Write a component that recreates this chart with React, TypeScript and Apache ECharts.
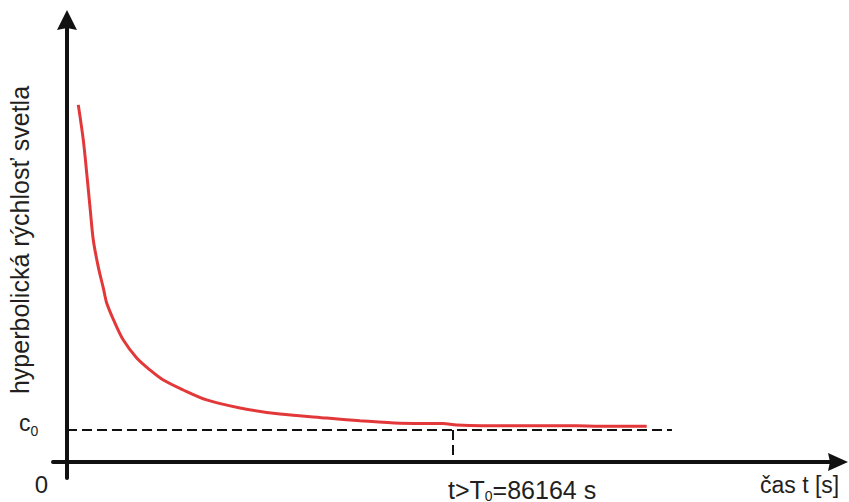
import React, { useEffect, useRef } from "react";
import * as echarts from "echarts";

// time in thousands of seconds (ks), speed in units of c0
const curveTime = [2.52, 3.64, 4.4, 5.13, 5.87, 6.99, 8.1, 8.86, 10.71, 12.57, 15.56, 18.53, 21.5, 25.96, 31.18, 38.62, 47.54, 57.97, 65.4, 74.33, 83.93, 86.99, 97.32, 113.77, 118.23, 129.4];
const curveSpeed = [11.16, 10.06, 9.03, 7.97, 6.94, 6.09, 5.44, 4.97, 4.34, 3.81, 3.25, 2.875, 2.56, 2.25, 1.94, 1.69, 1.5, 1.375, 1.29, 1.21, 1.2, 1.16, 1.13, 1.13, 1.12, 1.12];
const c0Value = [1];
const c0LineEnd = [135.04];
const siderealDay = [86.164];
const xRange = [-3.125, 172.1];
const yRange = [-0.5, 13.8125];

const labels = {
  yName: "hyperbolická rýchlosť svetla",
  xName: "čas t [s]",
  origin: "0",
  c0: "{a|c}{b|0}",
  t0: "{a|t>T}{b|0}{a|=86164 s}",
};

const FONT = '"Liberation Sans", Arial, Helvetica, sans-serif';
const TEXT = "#231f20";
const AXIS = "#111111";

export default function App() {
  const ref = useRef<HTMLDivElement>(null);
  useEffect(() => {
    if (!ref.current) return;
    const chart = echarts.init(ref.current, undefined, { renderer: "svg" });
    const curve = curveTime.map((t, i) => [t, curveSpeed[i]]);
    const dashed = { color: AXIS, width: 2, type: [10, 5] as number[] };
    chart.setOption({
      animation: false,
      backgroundColor: "#ffffff",
      grid: { left: 53, right: 11, top: 20, bottom: 24 },
      xAxis: {
        type: "value",
        min: xRange[0],
        max: xRange[1],
        axisLine: {
          show: true,
          onZero: true,
          lineStyle: { color: AXIS, width: 4 },
          symbol: ["none", "path://M9,0 L18,20 L9,18 L0,20 Z"],
          symbolSize: [18, 20],
        },
        axisTick: { show: false },
        axisLabel: { show: false },
        splitLine: { show: false },
      },
      yAxis: {
        type: "value",
        min: yRange[0],
        max: yRange[1],
        axisLine: {
          show: true,
          onZero: true,
          lineStyle: { color: AXIS, width: 4 },
          symbol: ["none", "path://M10,0 L20,20 L10,18 L0,20 Z"],
          symbolSize: [20, 20],
        },
        axisTick: { show: false },
        axisLabel: { show: false },
        splitLine: { show: false },
      },
      series: [
        {
          type: "line",
          data: [[0, c0Value[0]], [c0LineEnd[0], c0Value[0]]],
          showSymbol: false,
          lineStyle: dashed,
          z: 2,
        },
        {
          type: "line",
          data: [[siderealDay[0], c0Value[0]], [siderealDay[0], 0]],
          showSymbol: false,
          lineStyle: dashed,
          z: 2,
        },
        {
          type: "line",
          data: curve,
          smooth: 0.3,
          showSymbol: false,
          lineStyle: { color: "#e2383a", width: 3 },
          z: 3,
        },
      ],
      graphic: [
        {
          type: "text",
          x: 19.5,
          y: 240,
          rotation: Math.PI / 2,
          style: {
            text: labels.yName,
            font: `25px ${FONT}`,
            fill: TEXT,
            align: "center",
            verticalAlign: "middle",
          },
        },
        {
          type: "text",
          x: 41.5,
          y: 484,
          style: {
            text: labels.origin,
            font: `24px ${FONT}`,
            fill: TEXT,
            align: "center",
            verticalAlign: "middle",
          },
        },
        {
          type: "text",
          x: 19,
          y: 408,
          style: {
            text: labels.c0,
            fill: TEXT,
            rich: {
              a: { fontSize: 23, fontFamily: FONT, fill: TEXT, color: TEXT },
              b: { fontSize: 14, fontFamily: FONT, fill: TEXT, color: TEXT, padding: [16, 0, 0, 0] },
            },
          },
        },
        {
          type: "text",
          x: 448,
          y: 476.5,
          style: {
            text: labels.t0,
            fill: TEXT,
            rich: {
              a: { fontSize: 25, fontFamily: FONT, fill: TEXT, color: TEXT },
              b: { fontSize: 14, fontFamily: FONT, fill: TEXT, color: TEXT, padding: [12, 0, 0, 0] },
            },
          },
        },
        {
          type: "text",
          x: 760,
          y: 473.5,
          style: {
            text: labels.xName,
            font: `23px ${FONT}`,
            fill: TEXT,
          },
        },
      ],
    });
    return () => chart.dispose();
  }, []);
  return <div ref={ref} style={{ width: 849, height: 502, position: "absolute", left: 0, top: 0 }} />;
}
